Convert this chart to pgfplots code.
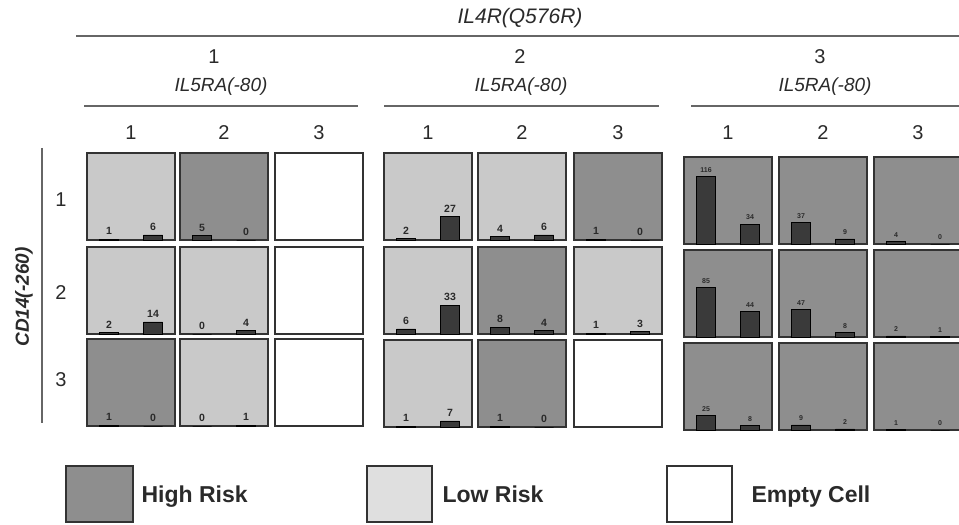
\documentclass[border=0pt]{standalone}
\usepackage{pgfplots}
\pgfplotsset{compat=1.18}
\usepackage{fontspec}
\setmainfont{Liberation Sans}
\definecolor{hi}{HTML}{8E8E8E}
\definecolor{lo}{HTML}{C9C9C9}
\definecolor{barc}{HTML}{3A3A3A}
\definecolor{bord}{HTML}{333333}
\definecolor{txt}{HTML}{2A2A2A}
\pgfplotsset{
  cellax/.style={
    anchor=south west, width=88pt, height=87pt, scale only axis,
    xmin=0, xmax=2, ymin=0,
    xtick=\empty, ytick=\empty,
    axis line style={draw=bord, line width=1.6pt},
    clip=false, ybar, bar width=19pt,
    /pgf/number format/assume math mode=true,
  }
}
% #1 x, #2 y, #3 fill, #4 first value, #5 second value, #6 ymax, #7 label font
\newcommand{\cell}[7]{%
\begin{axis}[cellax, at={(#1pt,#2pt)}, ymax=#6,
  axis background/.style={fill=#3},
  nodes near coords,
  nodes near coords style={font=#7, text=txt, inner sep=1pt, yshift=3pt}]
\addplot[fill=barc, draw=black, line width=0.5pt] coordinates {(0.5,#4) (1.5,#5)};
\end{axis}}
\newcommand{\emptycell}[2]{%
\begin{axis}[cellax, at={(#1pt,#2pt)}, ymax=100,
  axis background/.style={fill=white}]
\end{axis}}
\newcommand{\lblbig}{\fontsize{10.5}{12}\selectfont\bfseries}
\newcommand{\lblsmall}{\fontsize{7}{8}\selectfont\bfseries}
\begin{document}
\begin{tikzpicture}
\useasboundingbox (0pt,0pt) rectangle (959pt,525pt);
\clip (0pt,0pt) rectangle (959pt,525pt);
% headers
\begin{scope}[every node/.style={text=txt}]
\node[font=\fontsize{21}{24}\selectfont\itshape] at (520pt,507pt) {IL4R(Q576R)};
\draw[color=gray!80!black, line width=1.3pt] (76pt,489pt) -- (965pt,489pt);
\foreach \x/\t in {214/1,520/2,820/3}
  \node[font=\fontsize{20}{24}\selectfont] at (\x pt,468pt) {\t};
\foreach \x in {221,521,825}
  \node[font=\fontsize{19}{22}\selectfont\itshape] at (\x pt,438pt) {IL5RA(-80)};
\foreach \a/\b in {84/358,384/659,691/965}
  \draw[color=gray!80!black, line width=1.3pt] (\a pt,419pt) -- (\b pt,419pt);
\foreach \x/\t in {131/1,224/2,319/3,428/1,522/2,618/3,728/1,823/2,918/3}
  \node[font=\fontsize{20}{24}\selectfont] at (\x pt,392pt) {\t};
% left
\draw[color=gray!80!black, line width=1.3pt] (42pt,377pt) -- (42pt,102pt);
\node[rotate=90, font=\fontsize{19}{22}\selectfont\itshape\bfseries] at (24pt,228pt) {CD14(-260)};
\foreach \y/\t in {325/1,232/2,145/3}
  \node[font=\fontsize{20}{24}\selectfont] at (61pt,\y pt) {\t};
\end{scope}
% group 1
\cell{87}{285}{lo}{1}{6}{100}{\lblbig}
\cell{180}{285}{hi}{5}{0}{100}{\lblbig}
\emptycell{275}{285}
\cell{87}{191}{lo}{2}{14}{100}{\lblbig}
\cell{180}{191}{lo}{0}{4}{100}{\lblbig}
\emptycell{275}{191}
\cell{87}{99}{hi}{1}{0}{100}{\lblbig}
\cell{180}{99}{lo}{0}{1}{100}{\lblbig}
\emptycell{275}{99}
% group 2
\cell{384}{285}{lo}{2}{27}{100}{\lblbig}
\cell{478}{285}{lo}{4}{6}{100}{\lblbig}
\cell{574}{285}{hi}{1}{0}{100}{\lblbig}
\cell{384}{191}{lo}{6}{33}{100}{\lblbig}
\cell{478}{191}{hi}{8}{4}{100}{\lblbig}
\cell{574}{191}{lo}{1}{3}{100}{\lblbig}
\cell{384}{98}{lo}{1}{7}{100}{\lblbig}
\cell{478}{98}{hi}{1}{0}{100}{\lblbig}
\emptycell{574}{98}
% group 3
\cell{684}{281}{hi}{116}{34}{150}{\lblsmall}
\cell{779}{281}{hi}{37}{9}{150}{\lblsmall}
\cell{874}{281}{hi}{4}{0}{150}{\lblsmall}
\cell{684}{188}{hi}{85}{44}{150}{\lblsmall}
\cell{779}{188}{hi}{47}{8}{150}{\lblsmall}
\cell{874}{188}{hi}{2}{1}{150}{\lblsmall}
\cell{684}{95}{hi}{25}{8}{150}{\lblsmall}
\cell{779}{95}{hi}{9}{2}{150}{\lblsmall}
\cell{874}{95}{hi}{1}{0}{150}{\lblsmall}
% legend
\draw[fill=hi, draw=bord, line width=1.3pt] (66pt,3pt) rectangle (133pt,59pt);
\node[anchor=base west, font=\fontsize{23}{26}\selectfont\bfseries, text=txt] at (138pt,22pt) {High Risk};
\draw[fill=lo!60!white, draw=bord, line width=1.3pt] (367pt,3pt) rectangle (432pt,59pt);
\node[anchor=base west, font=\fontsize{23}{26}\selectfont\bfseries, text=txt] at (439pt,22pt) {Low Risk};
\draw[fill=white, draw=bord, line width=1.3pt] (667pt,3pt) rectangle (732pt,59pt);
\node[anchor=base west, font=\fontsize{23}{26}\selectfont\bfseries, text=txt] at (748pt,22pt) {Empty Cell};
\end{tikzpicture}
\end{document}
